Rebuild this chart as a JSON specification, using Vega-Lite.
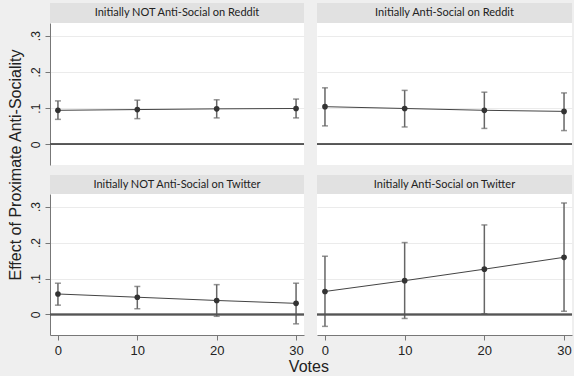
{
  "$schema": "https://vega.github.io/schema/vega-lite/v6.json",
  "background": "#efefef",
  "padding": {"left": 7, "top": 3, "right": 2, "bottom": 2},
  "datasets": {
    "est": [
      {"panel": "TL", "votes": 0, "est": 0.094, "lo": 0.069, "hi": 0.120},
      {"panel": "TL", "votes": 10, "est": 0.096, "lo": 0.071, "hi": 0.122},
      {"panel": "TL", "votes": 20, "est": 0.098, "lo": 0.073, "hi": 0.123},
      {"panel": "TL", "votes": 30, "est": 0.099, "lo": 0.073, "hi": 0.125},
      {"panel": "TR", "votes": 0, "est": 0.104, "lo": 0.051, "hi": 0.156},
      {"panel": "TR", "votes": 10, "est": 0.099, "lo": 0.048, "hi": 0.149},
      {"panel": "TR", "votes": 20, "est": 0.094, "lo": 0.044, "hi": 0.144},
      {"panel": "TR", "votes": 30, "est": 0.091, "lo": 0.038, "hi": 0.142},
      {"panel": "BL", "votes": 0, "est": 0.057, "lo": 0.026, "hi": 0.087},
      {"panel": "BL", "votes": 10, "est": 0.048, "lo": 0.016, "hi": 0.078},
      {"panel": "BL", "votes": 20, "est": 0.039, "lo": -0.005, "hi": 0.083},
      {"panel": "BL", "votes": 30, "est": 0.031, "lo": -0.026, "hi": 0.087},
      {"panel": "BR", "votes": 0, "est": 0.064, "lo": -0.033, "hi": 0.162},
      {"panel": "BR", "votes": 10, "est": 0.094, "lo": -0.011, "hi": 0.200},
      {"panel": "BR", "votes": 20, "est": 0.126, "lo": 0.002, "hi": 0.249},
      {"panel": "BR", "votes": 30, "est": 0.159, "lo": 0.009, "hi": 0.310}
    ]
  },
  "title": {"text": "Effect of Proximate Anti-Sociality", "orient": "left", "anchor": "middle", "font": "Liberation Sans", "fontSize": 16, "fontWeight": "normal", "color": "#222", "offset": 5, "dx": 24},
  "vconcat": [
    {
      "title": {"text": "Votes", "orient": "bottom", "anchor": "middle", "font": "Liberation Sans", "fontSize": 16, "fontWeight": "normal", "color": "#222", "offset": 2, "dx": 8},
      "spacing": 10,
      "vconcat": [
        {
          "spacing": 11,
          "hconcat": [
            {
              "spacing": 0,
              "vconcat": [
                {"width": 254, "height": 20, "view": {"fill": "#e1e1e1", "stroke": null},
                 "data": {"values": [{"t": "Initially NOT Anti-Social on Reddit"}]},
                 "mark": {"type": "text", "font": "Lato", "fontSize": 11, "color": "#222"},
                 "encoding": {"text": {"field": "t"}}},
                {"width": 254, "height": 142, "view": {"fill": "white", "stroke": null},
                 "data": {"name": "est"},
                 "transform": [{"filter": "datum.panel == 'TL'"}],
                 "layer": [
                   {"mark": {"type": "errorbar", "ticks": {"size": 6}, "color": "#666", "thickness": 1.5},
                    "encoding": {
                      "x": {"field": "votes", "type": "quantitative", "scale": {"domain": [-1, 31], "nice": false, "zero": false}, "axis": null},
                      "y": {"field": "lo", "type": "quantitative", "scale": {"domain": [-0.057, 0.335], "nice": false, "zero": false},
                            "axis": {"values": [0, 0.1, 0.2, 0.3], "labelExpr": "datum.value == 0 ? '0' : replace(format(datum.value, '.1f'), '0.', '.')", "labelAngle": -90, "labelAlign": "center", "labelBaseline": "bottom", "labelPadding": 3, "title": null, "grid": true, "domain": true, "ticks": true}},
                      "y2": {"field": "hi"}}},
                   {"mark": {"type": "rule", "color": "#555", "strokeWidth": 1.5}, "encoding": {"y": {"datum": 0}}},
                   {"mark": {"type": "line", "color": "#444", "strokeWidth": 1}, "encoding": {"x": {"field": "votes", "type": "quantitative"}, "y": {"field": "est", "type": "quantitative"}}},
                   {"mark": {"type": "circle", "size": 32, "color": "#333", "opacity": 1}, "encoding": {"x": {"field": "votes", "type": "quantitative"}, "y": {"field": "est", "type": "quantitative"}}}
                 ]}
              ]
            },
            {
              "spacing": 0,
              "vconcat": [
                {"width": 255, "height": 20, "view": {"fill": "#e1e1e1", "stroke": null},
                 "data": {"values": [{"t": "Initially Anti-Social on Reddit"}]},
                 "mark": {"type": "text", "font": "Lato", "fontSize": 11, "color": "#222"},
                 "encoding": {"text": {"field": "t"}}},
                {"width": 255, "height": 142, "view": {"fill": "white", "stroke": null},
                 "data": {"name": "est"},
                 "transform": [{"filter": "datum.panel == 'TR'"}],
                 "layer": [
                   {"mark": {"type": "errorbar", "ticks": {"size": 6}, "color": "#666", "thickness": 1.5},
                    "encoding": {
                      "x": {"field": "votes", "type": "quantitative", "scale": {"domain": [-1, 31], "nice": false, "zero": false}, "axis": null},
                      "y": {"field": "lo", "type": "quantitative", "scale": {"domain": [-0.057, 0.335], "nice": false, "zero": false},
                            "axis": {"values": [0, 0.1, 0.2, 0.3], "labels": false, "ticks": false, "domain": false, "grid": true, "title": null}},
                      "y2": {"field": "hi"}}},
                   {"mark": {"type": "rule", "color": "#555", "strokeWidth": 1.5}, "encoding": {"y": {"datum": 0}}},
                   {"mark": {"type": "line", "color": "#444", "strokeWidth": 1}, "encoding": {"x": {"field": "votes", "type": "quantitative"}, "y": {"field": "est", "type": "quantitative"}}},
                   {"mark": {"type": "circle", "size": 32, "color": "#333", "opacity": 1}, "encoding": {"x": {"field": "votes", "type": "quantitative"}, "y": {"field": "est", "type": "quantitative"}}}
                 ]}
              ]
            }
          ]
        },
        {
          "spacing": 11,
          "hconcat": [
            {
              "spacing": 0,
              "vconcat": [
                {"width": 254, "height": 19, "view": {"fill": "#e1e1e1", "stroke": null},
                 "data": {"values": [{"t": "Initially NOT Anti-Social on Twitter"}]},
                 "mark": {"type": "text", "font": "Lato", "fontSize": 11, "color": "#222"},
                 "encoding": {"text": {"field": "t"}}},
                {"width": 254, "height": 141, "view": {"fill": "white", "stroke": null},
                 "data": {"name": "est"},
                 "transform": [{"filter": "datum.panel == 'BL'"}],
                 "layer": [
                   {"mark": {"type": "errorbar", "ticks": {"size": 6}, "color": "#666", "thickness": 1.5},
                    "encoding": {
                      "x": {"field": "votes", "type": "quantitative", "scale": {"domain": [-1, 31], "nice": false, "zero": false},
                            "axis": {"values": [0, 10, 20, 30], "grid": false, "title": null, "labelFontSize": 13, "labelPadding": 4, "domain": true, "ticks": true}},
                      "y": {"field": "lo", "type": "quantitative", "scale": {"domain": [-0.057, 0.335], "nice": false, "zero": false},
                            "axis": {"values": [0, 0.1, 0.2, 0.3], "labelExpr": "datum.value == 0 ? '0' : replace(format(datum.value, '.1f'), '0.', '.')", "labelAngle": -90, "labelAlign": "center", "labelBaseline": "bottom", "labelPadding": 3, "title": null, "grid": true, "domain": true, "ticks": true}},
                      "y2": {"field": "hi"}}},
                   {"mark": {"type": "rule", "color": "#555", "strokeWidth": 1.5}, "encoding": {"y": {"datum": 0}}},
                   {"mark": {"type": "line", "color": "#444", "strokeWidth": 1}, "encoding": {"x": {"field": "votes", "type": "quantitative"}, "y": {"field": "est", "type": "quantitative"}}},
                   {"mark": {"type": "circle", "size": 32, "color": "#333", "opacity": 1}, "encoding": {"x": {"field": "votes", "type": "quantitative"}, "y": {"field": "est", "type": "quantitative"}}}
                 ]}
              ]
            },
            {
              "spacing": 0,
              "vconcat": [
                {"width": 255, "height": 19, "view": {"fill": "#e1e1e1", "stroke": null},
                 "data": {"values": [{"t": "Initially Anti-Social on Twitter"}]},
                 "mark": {"type": "text", "font": "Lato", "fontSize": 11, "color": "#222"},
                 "encoding": {"text": {"field": "t"}}},
                {"width": 255, "height": 141, "view": {"fill": "white", "stroke": null},
                 "data": {"name": "est"},
                 "transform": [{"filter": "datum.panel == 'BR'"}],
                 "layer": [
                   {"mark": {"type": "errorbar", "ticks": {"size": 6}, "color": "#666", "thickness": 1.5},
                    "encoding": {
                      "x": {"field": "votes", "type": "quantitative", "scale": {"domain": [-1, 31], "nice": false, "zero": false},
                            "axis": {"values": [0, 10, 20, 30], "grid": false, "title": null, "labelFontSize": 13, "labelPadding": 4, "domain": true, "ticks": true}},
                      "y": {"field": "lo", "type": "quantitative", "scale": {"domain": [-0.057, 0.335], "nice": false, "zero": false},
                            "axis": {"values": [0, 0.1, 0.2, 0.3], "labels": false, "ticks": false, "domain": false, "grid": true, "title": null}},
                      "y2": {"field": "hi"}}},
                   {"mark": {"type": "rule", "color": "#555", "strokeWidth": 1.5}, "encoding": {"y": {"datum": 0}}},
                   {"mark": {"type": "line", "color": "#444", "strokeWidth": 1}, "encoding": {"x": {"field": "votes", "type": "quantitative"}, "y": {"field": "est", "type": "quantitative"}}},
                   {"mark": {"type": "circle", "size": 32, "color": "#333", "opacity": 1}, "encoding": {"x": {"field": "votes", "type": "quantitative"}, "y": {"field": "est", "type": "quantitative"}}}
                 ]}
              ]
            }
          ]
        }
      ]
    }
  ],
  "config": {
    "axis": {"labelFont": "Liberation Sans", "labelFontSize": 12, "labelColor": "#222", "domainColor": "#777", "tickColor": "#777", "gridColor": "#ebebeb", "tickSize": 5}
  }
}
